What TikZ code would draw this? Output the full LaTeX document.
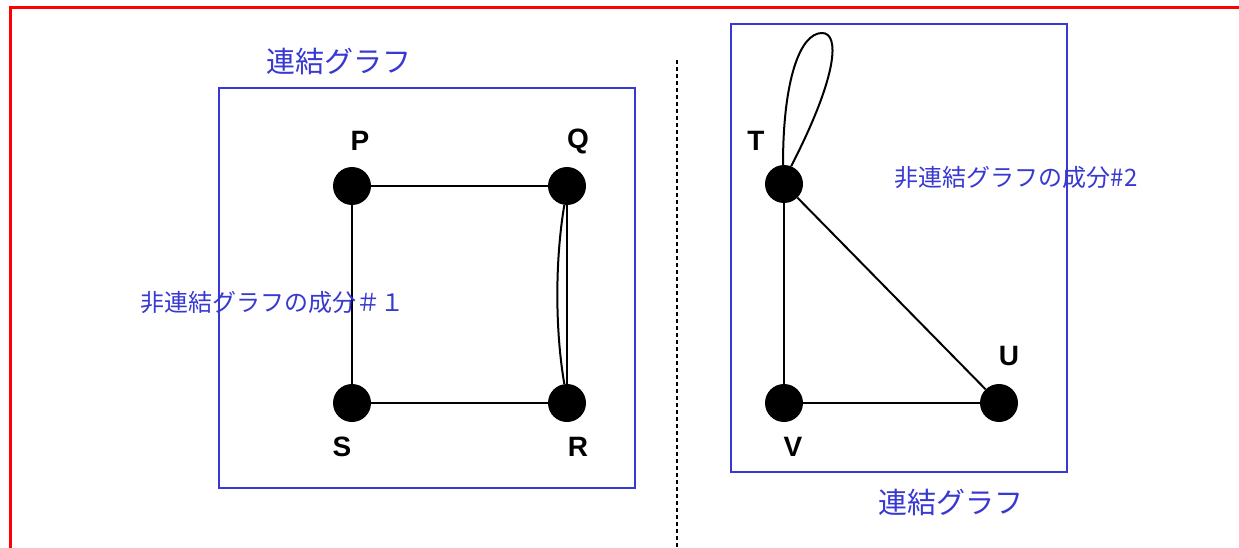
\documentclass[tikz,border=0pt]{standalone}
\usepackage{fontspec}
\setmainfont{Liberation Sans}
\newfontfamily\jpfont{Noto Sans CJK JP}
\definecolor{gblue}{RGB}{56,56,210}
\begin{document}
\begin{tikzpicture}[x=1pt,y=-1pt,
  vtx/.style={circle,fill=black,minimum size=38pt,inner sep=0pt},
  vlabel/.style={font=\fontsize{28}{28}\selectfont\bfseries,inner sep=0pt},
  edge/.style={line width=2pt},
  gbox/.style={draw=gblue,line width=2.2pt},
  jptitle/.style={text=gblue,font=\jpfont\fontsize{29}{29}\selectfont,inner sep=0pt},
  jplabel/.style={text=gblue,font=\jpfont\fontsize{24}{24}\selectfont,inner sep=0pt}]
\useasboundingbox (0,0) rectangle (1239,548);
\fill[white] (0,0) rectangle (1239,548);
% red frame
\coordinate (fbl) at (10.5,548);
\coordinate (ftl) at (10.5,7.5);
\coordinate (ftr) at (1239,7.5);
\draw[red,line width=2.4pt] (fbl) -- (ftl) -- (ftr);
% dashed divider
\coordinate (d1) at (677,60);
\coordinate (d2) at (677,548);
\draw[line width=1.6pt,dash pattern=on 4pt off 3pt] (d1) -- (d2);
% boxes
\node[gbox,minimum width=416pt,minimum height=400pt,inner sep=0pt] (box1) at (427,288) {};
\node[gbox,minimum width=336pt,minimum height=448pt,inner sep=0pt] (box2) at (899,248) {};
% vertices
\node[vtx] (P) at (352,186) {};
\node[vtx] (Q) at (567,186) {};
\node[vtx] (S) at (352,403) {};
\node[vtx] (R) at (567,403) {};
\node[vtx] (T) at (784,184) {};
\node[vtx] (V) at (784,403) {};
\node[vtx] (U) at (999,403) {};
% vertex labels
\node[vlabel] (lP) at (360,141) {P};
\node[vlabel] (lQ) at (578,141) {Q};
\node[vlabel] (lS) at (342,447) {S};
\node[vlabel] (lR) at (578,447) {R};
\node[vlabel] (lT) at (756,141) {T};
\node[vlabel] (lV) at (793,447) {V};
\node[vlabel] (lU) at (1009,356) {U};
% edges
\draw[edge] (P) -- (Q);
\draw[edge] (P) -- (S);
\draw[edge] (S) -- (R);
\draw[edge] (Q) -- (R);
\draw[edge] (Q.262) .. controls (555,260) and (555,330) .. (R.98);
\draw[edge] (T) -- (V);
\draw[edge] (V) -- (U);
\draw[edge] (T) -- (U);
\coordinate (looptop) at (822,33);
\draw[edge] (T.93) .. controls (783,80) and (800,33) .. (looptop)
  .. controls (840,33) and (838,75) .. (T.68);
% texts
\node[jptitle] (t1) at (339,62) {連結グラフ};
\node[jptitle] (t2) at (951,503) {連結グラフ};
\node[jplabel] (c1) at (272,303) {非連結グラフの成分＃１};
\node[jplabel] (c2) at (1016,178) {非連結グラフの成分\#2};
\end{tikzpicture}
\end{document}
